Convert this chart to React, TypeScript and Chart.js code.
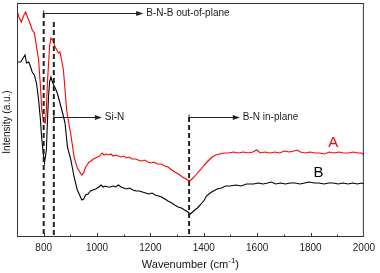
import React, { useEffect, useRef } from "react";
import { Chart, registerables } from "chart.js";

Chart.register(...registerables);

// ---- Data ----
const wavenumbersA = [700, 707, 716, 726, 732, 741, 751, 757, 765, 771, 781, 788, 793, 800, 806, 810, 814, 822, 827, 834, 843, 849, 855, 861, 867, 874, 880, 886, 892, 902, 914, 926, 943, 950, 957, 963, 970, 978, 986, 994, 1002, 1010, 1019, 1026, 1034, 1043, 1052, 1060, 1070, 1080, 1090, 1100, 1110, 1120, 1132, 1144, 1154, 1166, 1178, 1190, 1202, 1214, 1226, 1240, 1254, 1266, 1280, 1291, 1305, 1320, 1334, 1346, 1360, 1376, 1390, 1402, 1416, 1431, 1445, 1460, 1476, 1494, 1512, 1530, 1548, 1566, 1584, 1598, 1612, 1630, 1648, 1666, 1684, 1702, 1720, 1738, 1750, 1762, 1780, 1798, 1816, 1834, 1852, 1870, 1888, 1906, 1924, 1942, 1960, 1978, 1992, 2000];
const intensityA = [227, 220, 215, 222, 225, 219, 212, 207, 204, 194, 177, 150, 127, 115, 114, 127, 154, 190, 199, 197, 190, 187, 184, 185, 177, 167, 147, 127, 117, 102, 80, 69, 62, 64, 70, 72, 75, 76, 78, 79, 80, 81, 84, 82, 83, 82, 83, 81, 82, 81, 80, 81, 79, 80, 78, 78, 77, 76, 77, 75, 74, 75, 73, 73, 71, 70, 67, 65, 63, 60, 58, 56, 59, 64, 68, 72, 76, 80, 82, 83, 84, 84, 85, 84, 85, 84, 85, 87, 84, 85, 84, 85, 84, 86, 85, 86, 87, 85, 84, 85, 84, 84, 83, 85, 84, 85, 84, 84, 85, 84, 84, 82];

const wavenumbersB = [701, 714, 723, 730, 736, 744, 751, 757, 765, 773, 781, 788, 791, 797, 803, 810, 814, 818, 822, 827, 834, 843, 851, 861, 871, 880, 889, 902, 914, 926, 943, 950, 957, 966, 975, 985, 995, 1007, 1015, 1023, 1031, 1040, 1050, 1060, 1070, 1080, 1090, 1100, 1110, 1122, 1134, 1146, 1158, 1170, 1182, 1194, 1206, 1218, 1230, 1242, 1254, 1266, 1280, 1291, 1304, 1316, 1328, 1340, 1350, 1362, 1376, 1390, 1402, 1410, 1424, 1436, 1450, 1466, 1482, 1498, 1520, 1540, 1560, 1586, 1604, 1622, 1640, 1652, 1670, 1688, 1706, 1724, 1742, 1760, 1778, 1796, 1814, 1832, 1850, 1868, 1886, 1904, 1922, 1940, 1958, 1976, 1990, 2000];
const intensityB = [175, 175, 179, 182, 174, 175, 170, 165, 162, 154, 137, 117, 104, 87, 74, 87, 115, 140, 155, 160, 154, 149, 144, 134, 124, 114, 90, 77, 60, 47, 37, 38, 42, 43, 46, 47, 48, 50, 52, 50, 51, 50, 50, 51, 50, 52, 50, 49, 48, 49, 47, 46, 46, 45, 44, 43, 44, 42, 41, 40, 38, 36, 34, 32, 30, 29, 27, 25, 23, 26, 29, 33, 37, 41, 44, 46, 48, 49, 51, 51, 52, 51, 53, 53, 54, 53, 54, 55, 53, 54, 53, 54, 54, 53, 54, 55, 54, 54, 53, 54, 54, 53, 54, 53, 54, 53, 54, 53];

const seriesNames = ["A", "B"];
const seriesColors = ["#ff0000", "#000000"];
const xTicks = [800, 1000, 1200, 1400, 1600, 1800, 2000];
const markerWavenumbers = [800, 838, 1345];
const markerTops = [224, 215, 120];
const arrowLevels = [224, 120, 120];
const markerLabels = ["B-N-B out-of-plane", "Si-N", "B-N in-plane"];
const arrowEnds = [1173, 1018, 1535];
const seriesLabelPos = [
  [1885, 94],
  [1830, 64],
];

const FONT = "'Liberation Sans', Arial, sans-serif";

function drawArrow(ctx: CanvasRenderingContext2D, x1: number, x2: number, y: number) {
  ctx.beginPath();
  ctx.moveTo(x1, y);
  ctx.lineTo(x2 - 5, y);
  ctx.stroke();
  ctx.beginPath();
  ctx.moveTo(x2, y);
  ctx.lineTo(x2 - 7, y - 2.5);
  ctx.lineTo(x2 - 7, y + 2.5);
  ctx.closePath();
  ctx.fill();
  ctx.beginPath();
  ctx.moveTo(x1, y - 3);
  ctx.lineTo(x1, y + 3);
  ctx.stroke();
}

const decorPlugin = {
  id: "decor",
  afterDatasetsDraw(chart: any) {
    const ctx: CanvasRenderingContext2D = chart.ctx;
    const xs = chart.scales.x;
    const ys = chart.scales.y;
    const { left, right, top, bottom } = chart.chartArea;
    ctx.save();
    // frame
    ctx.strokeStyle = "#333";
    ctx.lineWidth = 1;
    ctx.strokeRect(left + 0.5, top + 0.5, right - left - 1, bottom - top - 1);
    // inward ticks
    for (let v = 800; v < 2000; v += 100) {
      const px = Math.round(xs.getPixelForValue(v)) + 0.5;
      const len = v % 200 === 0 ? 4 : 2.5;
      ctx.beginPath();
      ctx.moveTo(px, bottom);
      ctx.lineTo(px, bottom - len);
      ctx.stroke();
    }
    // dashed markers
    ctx.strokeStyle = "#222";
    ctx.lineWidth = 2;
    ctx.setLineDash([5, 3]);
    markerWavenumbers.forEach((w, i) => {
      const px = xs.getPixelForValue(w);
      ctx.beginPath();
      ctx.moveTo(px, ys.getPixelForValue(markerTops[i]));
      ctx.lineTo(px, bottom);
      ctx.stroke();
    });
    ctx.setLineDash([]);
    // arrows and labels
    ctx.strokeStyle = "#222";
    ctx.fillStyle = "#222";
    ctx.lineWidth = 1;
    ctx.font = `10px ${FONT}`;
    ctx.textBaseline = "middle";
    ctx.textAlign = "left";
    markerWavenumbers.forEach((w, i) => {
      const x1 = xs.getPixelForValue(w);
      const x2 = xs.getPixelForValue(arrowEnds[i]);
      const y = Math.round(ys.getPixelForValue(arrowLevels[i])) + 0.5;
      drawArrow(ctx, x1, x2, y);
      ctx.fillText(markerLabels[i], x2 + 3, y);
    });
    // series labels
    ctx.font = `15px ${FONT}`;
    ctx.textAlign = "center";
    seriesNames.forEach((n, i) => {
      ctx.fillStyle = seriesColors[i];
      ctx.fillText(n, xs.getPixelForValue(seriesLabelPos[i][0]), ys.getPixelForValue(seriesLabelPos[i][1]));
    });
    // x title with superscript
    ctx.fillStyle = "#111";
    ctx.font = `11px ${FONT}`;
    const main = "Wavenumber (cm";
    const sup = "-1";
    const tail = ")";
    const wMain = ctx.measureText(main).width;
    ctx.font = `8px ${FONT}`;
    const wSup = ctx.measureText(sup).width;
    ctx.font = `11px ${FONT}`;
    const wTail = ctx.measureText(tail).width;
    const total = wMain + wSup + wTail;
    const cx = (left + right) / 2;
    const ty = 265;
    const x0 = cx - total / 2;
    ctx.textAlign = "left";
    ctx.fillText(main, x0, ty);
    ctx.font = `8px ${FONT}`;
    ctx.fillText(sup, x0 + wMain, ty - 4);
    ctx.font = `11px ${FONT}`;
    ctx.fillText(tail, x0 + wMain + wSup, ty);
    // y title
    ctx.save();
    ctx.translate(7, (top + bottom) / 2 + 2);
    ctx.rotate(-Math.PI / 2);
    ctx.textAlign = "center";
    ctx.font = `10px ${FONT}`;
    ctx.fillText("Intensity (a.u.)", 0, 0);
    ctx.restore();
    ctx.restore();
  },
};

export default function App() {
  const ref = useRef<HTMLCanvasElement>(null);
  useEffect(() => {
    document.body.style.margin = "0";
    const canvas = ref.current!;
    const chart = new Chart(canvas, {
      type: "line",
      data: {
        datasets: [
          {
            label: seriesNames[0],
            data: wavenumbersA.map((x, i) => ({ x, y: intensityA[i] })),
            borderColor: seriesColors[0],
            borderWidth: 1.1,
            pointRadius: 0,
            tension: 0,
          },
          {
            label: seriesNames[1],
            data: wavenumbersB.map((x, i) => ({ x, y: intensityB[i] })),
            borderColor: seriesColors[1],
            borderWidth: 1.1,
            pointRadius: 0,
            tension: 0,
          },
        ],
      },
      options: {
        responsive: false,
        animation: false,
        devicePixelRatio: 1,
        layout: { padding: { top: 3, right: 12, left: 0, bottom: 0 } },
        plugins: { legend: { display: false }, tooltip: { enabled: false } },
        scales: {
          x: {
            type: "linear",
            min: 700,
            max: 2000,
            afterBuildTicks: (scale: any) => {
              scale.ticks = xTicks.map((v) => ({ value: v }));
            },
            afterFit: (scale: any) => {
              scale.height = 36;
            },
            ticks: {
              font: { family: FONT, size: 10 },
              color: "#222",
              padding: 5,
              maxRotation: 0,
              autoSkip: false,
              callback: (v: any) => String(v),
            },
            grid: { display: false, drawTicks: false },
            border: { display: false },
          },
          y: {
            type: "linear",
            min: 0,
            max: 234,
            afterFit: (scale: any) => {
              scale.width = 17;
            },
            ticks: { display: false },
            grid: { display: false, drawTicks: false },
            border: { display: false },
          },
        },
      },
      plugins: [decorPlugin],
    });
    return () => chart.destroy();
  }, []);
  return (
    <div style={{ width: 380, height: 273 }}>
      <canvas ref={ref} width={380} height={273} style={{ display: "block" }} />
    </div>
  );
}
